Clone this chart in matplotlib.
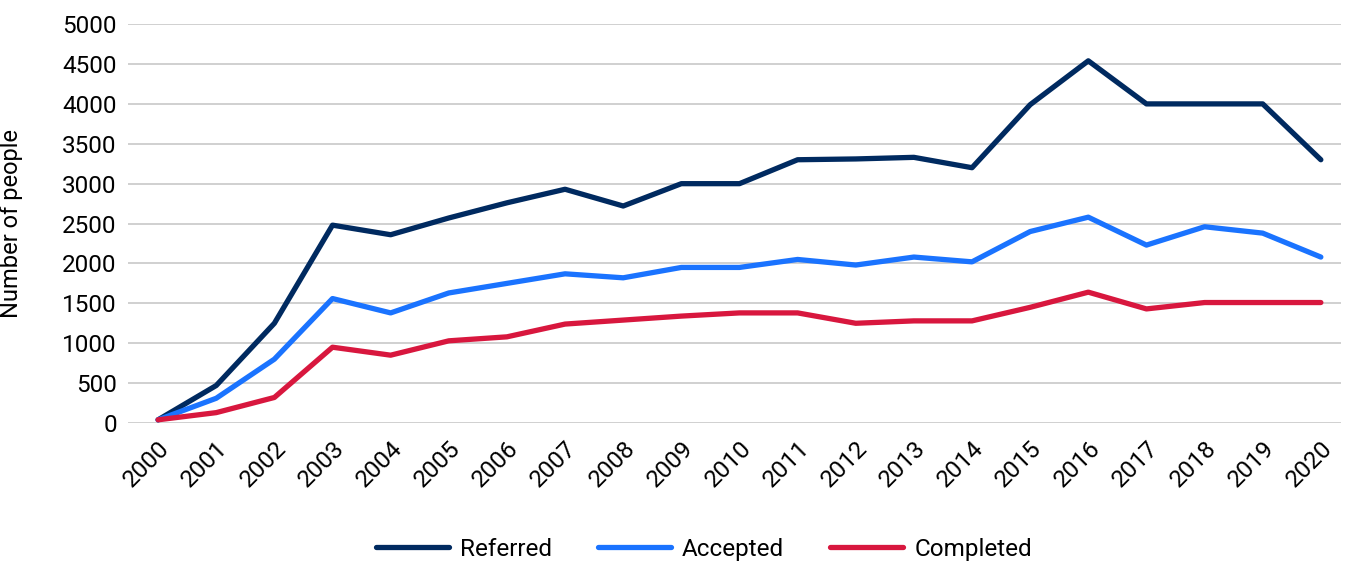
import matplotlib
matplotlib.use('Agg')
import matplotlib.pyplot as plt

years = list(range(2000, 2021))
referred = [40, 470, 1250, 2480, 2360, 2570, 2760, 2930, 2720, 3000, 3000,
            3300, 3310, 3330, 3200, 3990, 4540, 4000, 4000, 4000, 3300]
accepted = [40, 310, 800, 1560, 1380, 1630, 1750, 1870, 1820, 1950, 1950,
            2050, 1980, 2080, 2020, 2400, 2580, 2230, 2460, 2380, 2080]
completed = [40, 130, 320, 950, 850, 1030, 1080, 1240, 1290, 1340, 1380,
             1380, 1250, 1280, 1280, 1450, 1640, 1430, 1510, 1510, 1510]

plt.rcParams['font.family'] = ['Roboto', 'DejaVu Sans']

fig = plt.figure(figsize=(13.46, 5.61), dpi=100)
ax = fig.add_axes([0.095, 0.246, 0.901, 0.711])

ax.plot(years, referred, color='#002a60', lw=3.8, label='Referred', solid_capstyle='round')
ax.plot(years, accepted, color='#1a73ff', lw=3.8, label='Accepted', solid_capstyle='round')
ax.plot(years, completed, color='#d8173e', lw=3.8, label='Completed', solid_capstyle='round')

ax.set_ylim(0, 5000)
ax.set_xlim(1999.48, 2020.34)
ax.set_yticks(range(0, 5001, 500))
ax.set_xticks(years)
ax.set_xticklabels([str(y) for y in years], rotation=45, ha='right', rotation_mode='anchor')
ax.tick_params(axis='both', length=0, labelsize=17.5)
ax.tick_params(axis='x', pad=10)
ax.tick_params(axis='y', pad=8)
ax.grid(axis='y', color='#c8c8c8', lw=1.2)
ax.set_axisbelow(True)
for s in ax.spines.values():
    s.set_visible(False)
ax.set_ylabel('Number of people', fontsize=17, labelpad=28)

ax.legend(loc='lower center', bbox_to_anchor=(0.475, -0.40), ncol=3, frameon=False,
          fontsize=17.5, handlelength=3.0, columnspacing=1.9, handletextpad=0.45)

plt.savefig('out.png', dpi=100)
